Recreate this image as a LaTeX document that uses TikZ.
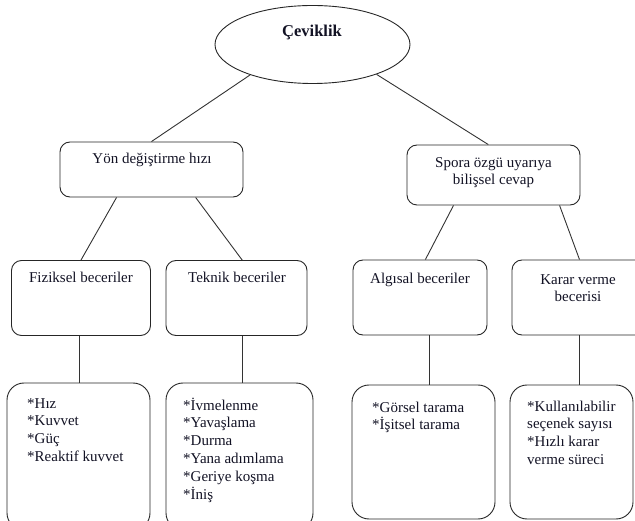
\documentclass[tikz,border=0pt]{standalone}
\usepackage{fontspec}
\setmainfont{Liberation Serif}
\usetikzlibrary{shapes.geometric,calc}
\definecolor{ink}{rgb}{0.07,0.07,0.14}
\tikzset{
  box/.style={draw=black!85, line width=0.9pt, rounded corners=10pt, inner sep=0pt},
  bigbox/.style={draw=black!85, line width=0.9pt, rounded corners=17pt, inner sep=0pt},
  conn/.style={draw=black!80, line width=0.9pt},
  txt/.style={text=ink, inner sep=0pt, font=\fontsize{15}{17.8}\selectfont},
  lbl/.style={txt, anchor=base},
  list/.style={txt, align=left, anchor=north west},
  clist/.style={txt, align=center, anchor=north},
}
\begin{document}
\begin{tikzpicture}[x=1pt,y=-1pt]
\useasboundingbox (0,0) rectangle (635,521);
\clip (0,0) rectangle (635,521);
% root
\node[draw=black!85, line width=0.9pt, ellipse, minimum width=195pt, minimum height=78pt, inner sep=0pt] (root) at (312.5,44.5) {};
\node[lbl, font=\fontsize{16.5}{19}\selectfont\bfseries] (roott) at (312,37) {Çeviklik};
% level 1
\node[box, minimum width=183pt, minimum height=55pt] (yon) at (151.5,169.5) {};
\node[lbl] (yont) at (152,164) {Yön değiştirme hızı};
\node[box, minimum width=173pt, minimum height=60pt] (spora) at (493.5,175) {};
\node[clist] (sporat) at (493.5,154.5) {\strut Spora özgü uyarıya\\bilişsel cevap};
% level 2
\node[box, minimum width=139pt, minimum height=75pt] (fiz) at (81,298) {};
\node[lbl] (fizt) at (81,283) {Fiziksel beceriler};
\node[box, minimum width=141pt, minimum height=75pt] (tek) at (236.5,298) {};
\node[lbl] (tekt) at (237,283) {Teknik beceriler};
\node[box, minimum width=134pt, minimum height=75pt] (alg) at (420,297.5) {};
\node[lbl] (algt) at (420,284) {Algısal beceriler};
\node[box, minimum width=135pt, minimum height=75pt] (kar) at (579.5,297.5) {};
\node[clist] (kart) at (578,271.5) {\strut Karar verme\\becerisi};
% level 3
\node[bigbox, minimum width=143pt, minimum height=147pt] (b1) at (78.5,456.5) {};
\node[bigbox, minimum width=147pt, minimum height=147pt] (b2) at (239.5,456.5) {};
\node[bigbox, minimum width=143pt, minimum height=134pt] (b3) at (423.5,452) {};
\node[bigbox, minimum width=123pt, minimum height=134pt] (b4) at (571.5,452) {};
\node[list] (b1t) at (27,395.5) {\strut *Hız\\*Kuvvet\\*Güç\\*Reaktif kuvvet};
\node[list] (b2t) at (183,397.5) {\strut *İvmelenme\\*Yavaşlama\\*Durma\\*Yana adımlama\\*Geriye koşma\\*İniş};
\node[list] (b3t) at (372,399.5) {\strut *Görsel tarama\\*İşitsel tarama};
\node[list] (b4t) at (527,398.5) {\strut *Kullanılabilir\\seçenek sayısı\\*Hızlı karar\\verme süreci};
% connectors
\draw[conn] (root.206) -- (yon.north);
\draw[conn] (root.335) -- ($(spora.north west)!0.47!(spora.north east)$);
\draw[conn] ($(yon.south west)!0.31!(yon.south east)$) -- (fiz.north);
\draw[conn] ($(yon.south west)!0.74!(yon.south east)$) -- ($(tek.north west)!0.54!(tek.north east)$);
\draw[conn] ($(spora.south west)!0.27!(spora.south east)$) -- ($(alg.north west)!0.54!(alg.north east)$);
\draw[conn] ($(spora.south west)!0.88!(spora.south east)$) -- ($(kar.north west)!0.5!(kar.north east)$);
\coordinate (c1) at ($(fiz.south west)!0.49!(fiz.south east)$);
\coordinate (c2) at ($(tek.south west)!0.545!(tek.south east)$);
\coordinate (c3) at ($(alg.south west)!0.57!(alg.south east)$);
\coordinate (c4) at ($(kar.south west)!0.5!(kar.south east)$);
\draw[conn] (c1) -- (c1 |- b1.north);
\draw[conn] (c2) -- (c2 |- b2.north);
\draw[conn] (c3) -- (c3 |- b3.north);
\draw[conn] (c4) -- (c4 |- b4.north);
\end{tikzpicture}
\end{document}
